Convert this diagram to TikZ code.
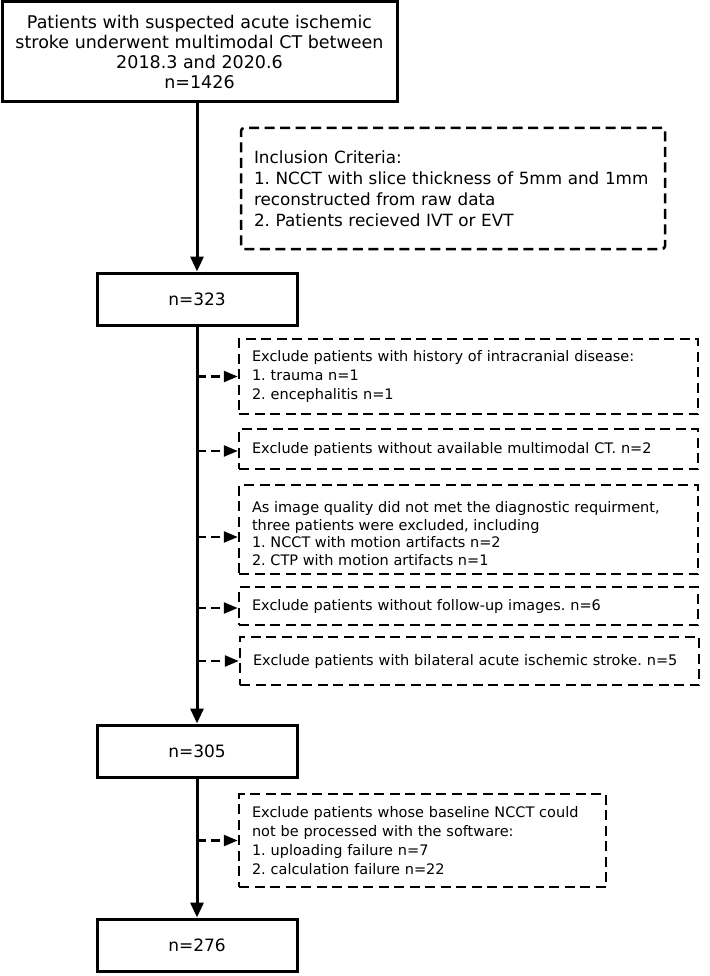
\documentclass[tikz,border=0pt]{standalone}
\usepackage{fontspec}
\setmainfont{DejaVu Sans}
\usetikzlibrary{arrows.meta}
\begin{document}
\frenchspacing
\begin{tikzpicture}[x=1pt,y=-1pt,
  solidbox/.style={draw, line width=3pt, inner sep=0pt, align=center},
  dashbox/.style={draw, line width=2.5pt, dash pattern=on 10pt off 5.5pt, inner xsep=13pt, inner ysep=0pt, align=left},
  mainarrow/.style={line width=3pt, -{Triangle[length=15pt,width=13pt]}},
  dasharrow/.style={line width=2.5pt, dash pattern=on 9pt off 5pt, -{Triangle[length=14pt,width=11pt]}},
  bigtext/.style={font=\fontsize{17.5}{20}\selectfont},
  nodetext/.style={font=\fontsize{17}{20}\selectfont},
  midtext/.style={font=\fontsize{16.8}{21}\selectfont},
  smalltext/.style={font=\fontsize{14.5}{19}\selectfont}
]
\useasboundingbox (0,0) rectangle (709,976);

\node[solidbox, bigtext, minimum width=395pt, minimum height=100pt] (top) at (199.5,52)
  {Patients with suspected acute ischemic\\stroke underwent multimodal CT between\\2018.3 and 2020.6\\n=1426};

\node[dashbox, midtext, rounded corners=3pt, minimum width=424pt, text width=398pt, minimum height=121pt] (incl) at (453,188.5)
  {Inclusion Criteria:\\1. NCCT with slice thickness of 5mm and 1mm\\reconstructed from raw data\\2. Patients recieved IVT or EVT};

\node[solidbox, nodetext, minimum width=200pt, minimum height=52pt] (n323) at (197,299) {n=323};

\node[dashbox, smalltext, minimum width=459pt, text width=433pt, minimum height=75pt] (e1) at (468.5,376.5)
  {Exclude patients with history of intracranial disease:\\1. trauma n=1\\2. encephalitis n=1};
\node[dashbox, smalltext, minimum width=459pt, text width=433pt, minimum height=40pt] (e2) at (468.5,449)
  {\raisebox{-2pt}{Exclude patients without available multimodal CT. n=2}};
\node[dashbox, smalltext, minimum width=459pt, minimum height=89pt] (e3) at (468.5,529.5)
  {\raisebox{-7.5pt}[0pt][0pt]{\parbox[c]{433pt}{\fontsize{14.5}{17.5}\selectfont
   As image quality did not met the diagnostic requirment,\\three patients were excluded, including\\1. NCCT with motion artifacts n=2\\2. CTP with motion artifacts n=1}}};
\node[dashbox, smalltext, minimum width=459pt, text width=433pt, minimum height=38pt] (e4) at (468.5,606)
  {\raisebox{-2pt}{Exclude patients without follow-up images. n=6}};
\node[dashbox, smalltext, minimum width=459pt, text width=433pt, minimum height=48pt] (e5) at (469.5,661)
  {Exclude patients with bilateral acute ischemic stroke. n=5};

\node[solidbox, nodetext, minimum width=200pt, minimum height=52pt] (n305) at (197,751) {n=305};

\node[dashbox, smalltext, minimum width=367pt, text width=341pt, minimum height=93pt] (e6) at (422.5,840.5)
  {Exclude patients whose baseline NCCT could\\not be processed with the software:\\1. uploading failure n=7\\2. calculation failure n=22};

\node[solidbox, nodetext, minimum width=200pt, minimum height=52pt] (n276) at (197,945) {n=276};

% main flow
\draw[mainarrow] (top.south -| n323.north) -- (n323.north);
\draw[mainarrow] (n323.south) -- (n305.north);
\draw[mainarrow] (n305.south) -- (n276.north);

% exclusion arrows
\foreach \b/\s in {e1/0pt,e2/-2pt,e3/-7.5pt,e4/-2pt,e5/0pt,e6/0pt}{
  \draw[dasharrow] ([yshift=\s]\b.west -| n323.south) -- ([yshift=\s]\b.west);
}
\end{tikzpicture}
\end{document}
